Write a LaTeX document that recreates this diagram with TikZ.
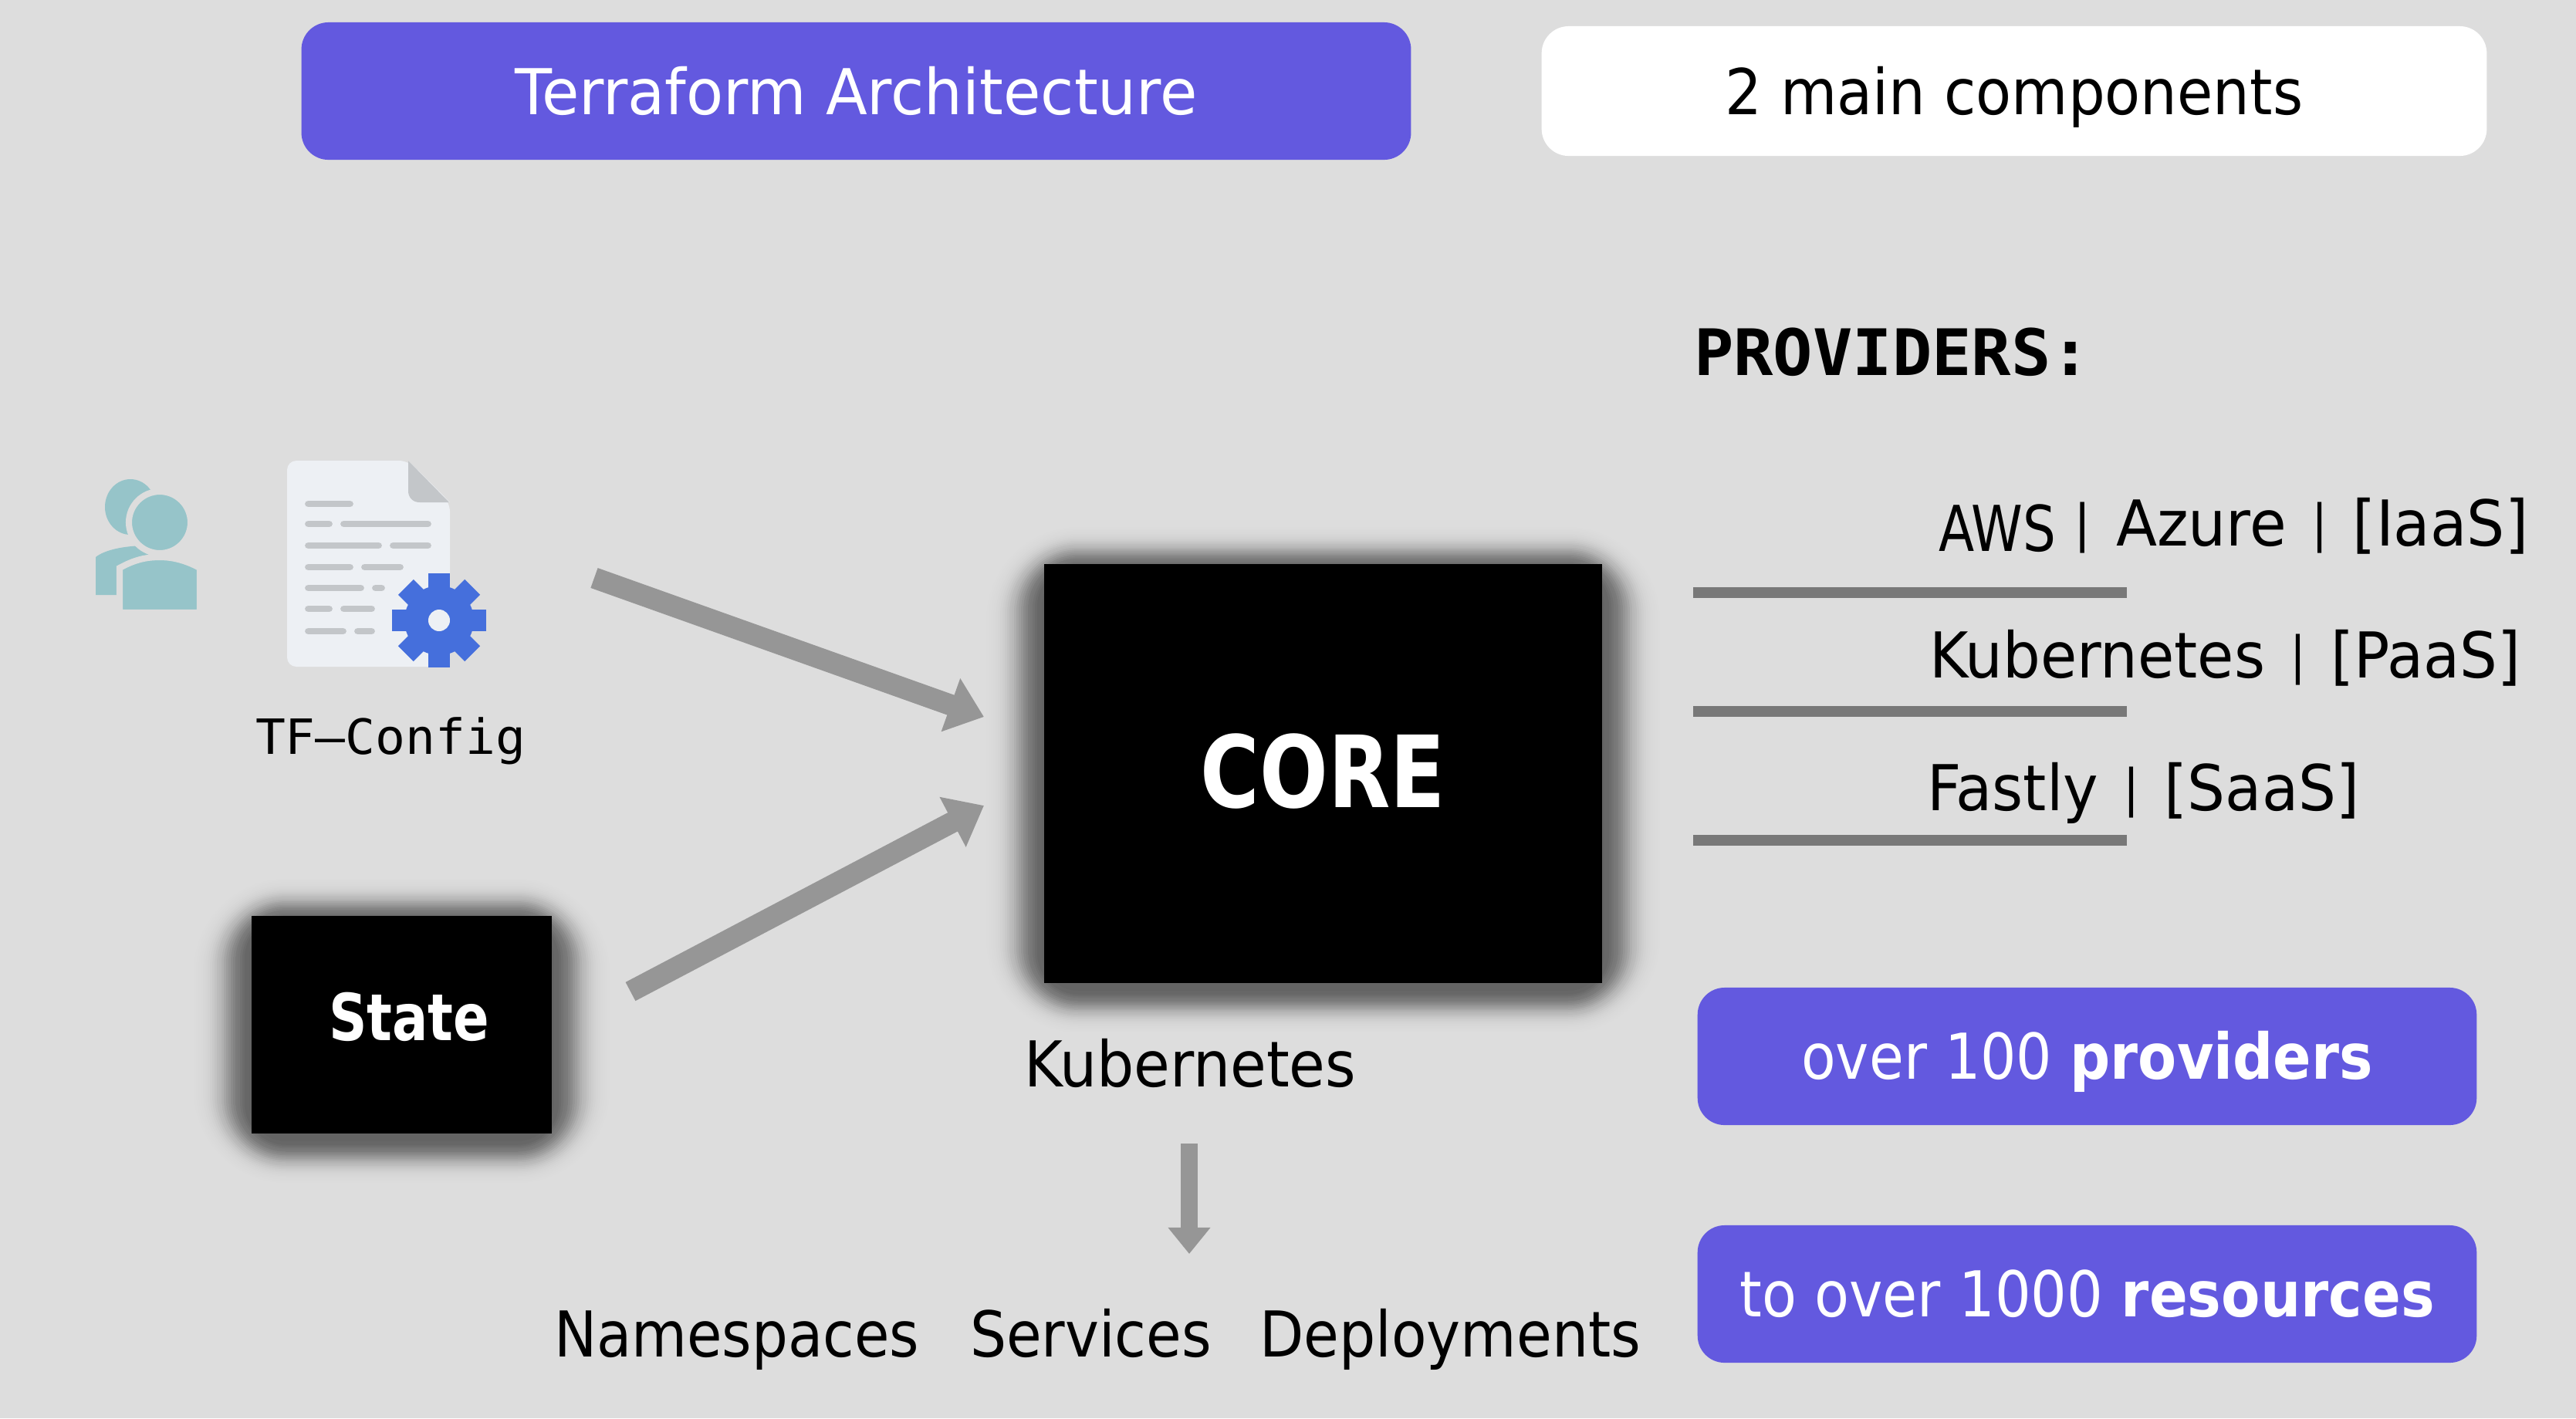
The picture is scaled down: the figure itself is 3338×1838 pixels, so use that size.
\documentclass[tikz,border=0pt]{standalone}
\usepackage{fontspec}
\usepackage{graphicx}
\setmainfont{DejaVu Sans}
\newfontfamily\monof{DejaVu Sans Mono}
\usetikzlibrary{arrows.meta}
\definecolor{bgc}{HTML}{DDDDDD}
\definecolor{purp}{HTML}{6359DF}
\definecolor{arrowc}{HTML}{969696}
\definecolor{rulec}{HTML}{787878}
\definecolor{teal}{HTML}{96C4C9}
\definecolor{docc}{HTML}{EDF0F4}
\definecolor{docl}{HTML}{C3C6C9}
\definecolor{gearc}{HTML}{456FDC}
\newsavebox\fitbox
\newcommand{\fitw}[2]{\sbox\fitbox{#2}\pgfmathsetmacro\fitr{#1*0.28453/\wd\fitbox}\scalebox{\fitr}[1]{\usebox\fitbox}}
\newcommand{\thinpipe}{\hspace{0.42em}\raisebox{1.6pt}{\fontsize{18.8pt}{22pt}\selectfont |}\hspace{0.42em}}
\newcommand{\softshadow}[4]{%
  \foreach \d in {3,6,...,84} {%
    \pgfmathsetmacro\rr{(\d+45)*0.01}%
    \pgfmathsetmacro\aa{0.00358*\d*exp(-(\d/34)*(\d/34))}%
    \fill[black,opacity=\aa,rounded corners=\rr cm]
      ({#1-\d},{#2-0.75*\d+8}) rectangle ({#3+\d},{#4+0.75*\d+8});
  }%
}
\tikzset{
  pill/.style={rectangle,rounded corners=0.35cm,draw=none,inner sep=0pt,outer sep=0pt,align=center},
  purplepill/.style={pill,fill=purp,text=white,font=\fontsize{23.3pt}{28pt}\selectfont},
  whitepill/.style={pill,fill=white,text=black,font=\fontsize{23.3pt}{28pt}\selectfont},
  blackbox/.style={rectangle,fill=black,inner sep=0pt,outer sep=0pt,text=white},
  txt/.style={anchor=base west,inner sep=0pt,outer sep=0pt,text=black,font=\fontsize{23.3pt}{28pt}\selectfont},
  pipetxt/.style={anchor=base,inner sep=0pt,outer sep=0pt,text=black,font=\fontsize{18.8pt}{22pt}\selectfont},
  monotxt/.style={anchor=base west,inner sep=0pt,outer sep=0pt,text=black},
  bigarrow/.style={draw=arrowc,fill=arrowc,line width=7.8pt,-{Triangle[length=13pt,width=20pt]}},
  downarrow/.style={draw=arrowc,fill=arrowc,line width=6.3pt,-{Triangle[length=9.7pt,width=15pt]}},
  docline/.style={draw=docl,line width=2.5pt,line cap=round},
}
\begin{document}
\begin{tikzpicture}[x=0.01cm,y=-0.01cm]
\useasboundingbox (0,0) rectangle (3338,1838);
\fill[bgc] (0,0) rectangle (3338,1838);

% header pills
\node[purplepill,minimum width=14.37cm,minimum height=1.78cm,text height=0.61cm,text depth=0pt] (title) at (1109.5,118)
  {\fitw{884}{Terraform Architecture}};
\node[whitepill,minimum width=12.24cm,minimum height=1.68cm,text height=0.61cm,text depth=0pt] (parts) at (2610,118)
  {\fitw{748}{2 main components}};

% people icon
\fill[teal] (169,657) ellipse [x radius=33,y radius=36];
\fill[teal] (124,771) -- (124,722) .. controls (135,713) and (160,707) .. (192,707) -- (192,771) -- cycle;
\filldraw[fill=teal,draw=bgc,line width=2.3pt] (207,677) ellipse [x radius=40,y radius=40];
\filldraw[fill=teal,draw=bgc,line width=2.3pt] (155,794) -- (155,736) .. controls (175,725) and (190,722) .. (207,722) .. controls (224,722) and (240,726) .. (259,736) -- (259,794) -- cycle;

% document icon
\fill[docc,rounded corners=0.12cm] (529,597) -- (372,597) -- (372,864) -- (583,864) -- (583,651) -- cycle;
\fill[docc] (529,597) -- (583,651) -- (529,651) -- cycle;
\fill[docl] (529,597) -- (582,651) -- (544,651) .. controls (535,651) and (529,645) .. (529,636) -- cycle;
\foreach \y/\a/\b in {653/395/458,679/395/431,679/441/559,707/395/495,707/505/559,735/395/458,735/468/523,762/395/472,762/482/499,789/395/431,789/441/486,818/395/449,818/459/486}
  \draw[docline] ({\a+4.5},\y) -- ({\b-4.5},\y);
\begin{scope}[shift={(569,804)}]
  \fill[gearc] (0,0) circle [radius=45];
  \foreach \a in {0,45,...,315}
    \fill[gearc,rotate=\a] (-14,35) rectangle (14,61);
  \fill[docc] (0,0) ellipse [x radius=14,y radius=14];
\end{scope}
\node[monotxt,font=\monof\fontsize{17.9pt}{22pt}\selectfont] (tfconfig) at (331,977) {\fitw{350}{TF–Config}};

% State
\softshadow{326}{1187}{715}{1469}
\node[blackbox,minimum width=3.89cm,minimum height=2.82cm] (state) at (520.5,1328) {};
\node[anchor=base west,inner sep=0pt,outer sep=0pt,text=white,font=\bfseries\fontsize{23.9pt}{28pt}\selectfont] (statelabel) at (426,1348) {\fitw{208}{State}};

% CORE
\softshadow{1353}{731}{2076}{1274}
\node[blackbox,minimum width=7.23cm,minimum height=5.43cm,font=\bfseries\fontsize{36.7pt}{42pt}\selectfont,text height=0.94cm,text depth=0.06cm] (core) at (1714.5,1002.5)
  {\fitw{317}{CORE}};

% arrows
\coordinate (cfgtail) at (770,749);
\coordinate (cfgtip) at (1275,929);
\coordinate (statetail) at (817,1285);
\coordinate (statetip) at (1275,1044);
\coordinate (kubetail) at (1541,1482);
\coordinate (kubetip) at (1541,1625);
\draw[bigarrow] (cfgtail) -- (cfgtip);
\draw[bigarrow] (statetail) -- (statetip);
\draw[downarrow] (kubetail) -- (kubetip);

% core labels
\node[txt] (kube) at (1327,1408) {\fitw{430}{Kubernetes}};
\node[txt] (ns) at (718,1758) {\fitw{473}{Namespaces}};
\node[txt] (svc) at (1257,1758) {\fitw{313}{Services}};
\node[txt] (dep) at (1632,1758) {\fitw{494}{Deployments}};

% providers
\node[monotxt,font=\monof\bfseries\fontsize{23.6pt}{28pt}\selectfont] (prov) at (2195,486) {\fitw{514}{PROVIDERS:}};
\node[txt] (aws) at (2512,714) {\fitw{152}{AWS}};
\node[pipetxt] (awspipe) at (2699,701) {|};
\node[txt] (azure) at (2742,707) {\fitw{534}{Azure\thinpipe [IaaS]}};
\node[txt] (paas) at (2500,878) {\fitw{766}{Kubernetes\thinpipe [PaaS]}};
\node[txt] (saas) at (2497,1050) {\fitw{560}{Fastly\thinpipe [SaaS]}};
\fill[rulec] (2194,761) rectangle (2756,775);
\fill[rulec] (2194,915) rectangle (2756,929);
\fill[rulec] (2194,1082) rectangle (2756,1096);

% bottom pills
\node[purplepill,minimum width=10.09cm,minimum height=1.78cm,text height=0.59cm,text depth=0pt] (hundred) at (2704.5,1369)
  {\fitw{740}{over 100 \textbf{providers}}};
\node[purplepill,minimum width=10.09cm,minimum height=1.78cm,text height=0.59cm,text depth=0pt] (thousand) at (2704.5,1677)
  {\fitw{900}{to over 1000 \textbf{resources}}};
\end{tikzpicture}
\end{document}
